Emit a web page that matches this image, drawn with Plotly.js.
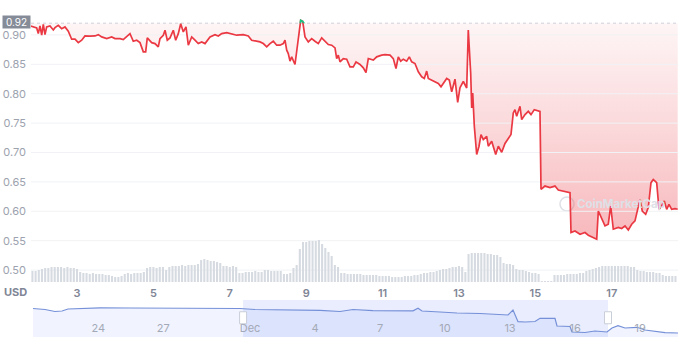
<!DOCTYPE html>
<html><head><meta charset="utf-8">
<script src="https://cdn.plot.ly/plotly-3.0.1.min.js"></script>
<style>html,body{margin:0;padding:0;background:#fff}#chart{width:690px;height:344px}</style>
</head><body><div id="chart"></div>
<script>
// ---- price (December, fractional day of month) ----
const priceDay = [1.770,1.856,1.945,1.987,2.031,2.076,2.118,2.162,2.207,2.293,
2.380,2.424,2.510,2.599,2.686,2.772,2.861,2.948,3.034,3.123,
3.209,3.340,3.471,3.558,3.647,3.777,3.908,3.995,4.126,4.212,
4.301,4.387,4.474,4.563,4.649,4.736,4.798,4.840,4.955,5.042,
5.128,5.173,5.259,5.304,5.364,5.435,5.521,5.584,5.652,5.715,
5.783,5.853,5.914,6.003,6.089,6.175,6.264,6.351,6.482,6.613,
6.699,6.788,6.919,7.050,7.181,7.353,7.484,7.573,7.704,7.791,
7.877,7.966,8.052,8.139,8.228,8.314,8.401,8.445,8.490,8.531,
8.576,8.620,8.707,8.767,8.819,8.856,8.908,8.969,9.055,9.144,
9.230,9.317,9.406,9.492,9.579,9.668,9.754,9.798,9.840,9.885,
9.971,10.060,10.147,10.233,10.304,10.408,10.495,10.565,10.626,10.757,
10.846,10.976,11.063,11.194,11.280,11.351,11.411,11.474,11.542,11.631,
11.699,11.762,11.848,11.935,12.024,12.092,12.154,12.196,12.285,12.372,
12.458,12.529,12.607,12.678,12.746,12.809,12.895,12.966,13.026,13.113,
13.202,13.243,13.306,13.332,13.359,13.401,13.463,13.524,13.576,13.636,
13.725,13.767,13.856,13.961,14.029,14.118,14.204,14.291,14.361,14.421,
14.466,14.510,14.597,14.641,14.728,14.814,14.885,14.971,15.060,15.120,
15.147,15.251,15.382,15.513,15.599,15.730,15.861,15.906,15.932,16.037,
16.168,16.298,16.385,16.516,16.605,16.647,16.736,16.822,16.908,16.971,
17.039,17.170,17.259,17.346,17.432,17.521,17.607,17.678,17.738,17.798,
17.887,17.955,18.026,18.086,18.175,18.236,18.306,18.374,18.437,18.497,
18.568,18.654,18.725];
const priceUsd = [0.9153,0.9136,0.9119,0.9022,0.9153,0.8995,0.9181,0.9005,0.9136,0.9153,
0.9085,0.9124,0.9164,0.9107,0.9136,0.9063,0.8927,0.8927,0.8869,0.8910,
0.8983,0.8978,0.8983,0.9005,0.8966,0.8937,0.8966,0.8937,0.8937,0.8920,
0.8966,0.9022,0.8893,0.8910,0.8869,0.8712,0.8712,0.8949,0.8869,0.8853,
0.8797,0.8937,0.8995,0.9080,0.8910,0.8949,0.9080,0.8910,0.9022,0.9190,
0.9051,0.9136,0.8825,0.8966,0.8910,0.8853,0.8881,0.8853,0.8966,0.9005,
0.8983,0.9022,0.9039,0.9022,0.8995,0.9005,0.8983,0.8910,0.8893,0.8881,
0.8853,0.8797,0.8853,0.8893,0.8825,0.8825,0.8853,0.8910,0.8741,0.8683,
0.8554,0.8627,0.8497,0.8825,0.9107,0.9249,0.9232,0.8966,0.8881,0.8937,
0.8893,0.8853,0.8949,0.8893,0.8836,0.8825,0.8780,0.8598,0.8656,0.8542,
0.8598,0.8588,0.8458,0.8458,0.8542,0.8497,0.8441,0.8361,0.8598,0.8571,
0.8627,0.8656,0.8666,0.8656,0.8598,0.8429,0.8627,0.8554,0.8588,0.8554,
0.8627,0.8542,0.8514,0.8373,0.8288,0.8259,0.8385,0.8259,0.8232,0.8203,
0.8175,0.8119,0.8203,0.8259,0.8232,0.8034,0.8247,0.7853,0.8102,0.8208,
0.8097,0.9085,0.8351,0.7758,0.8012,0.7446,0.6966,0.7107,0.7305,0.7220,
0.7276,0.7107,0.7192,0.6966,0.7107,0.7005,0.7153,0.7249,0.7305,0.7673,
0.7729,0.7615,0.7785,0.7559,0.7644,0.7700,0.7644,0.7729,0.7717,0.7700,
0.6373,0.6429,0.6402,0.6429,0.6361,0.6344,0.6317,0.6317,0.5639,0.5666,
0.5610,0.5639,0.5593,0.5554,0.5525,0.6005,0.5864,0.5751,0.5780,0.6090,
0.5695,0.5724,0.5707,0.5751,0.5683,0.5780,0.5836,0.6063,0.6203,0.6005,
0.5949,0.6063,0.6487,0.6542,0.6487,0.6034,0.6090,0.6175,0.6034,0.6119,
0.6034,0.6046,0.6034];
const baselinePrice = 0.92;

// ---- volume (2-hour bars) ----
const volumeStartDay = 1.8333;
const volumeStepHours = 2;
const volumeM = [11,11,12,
13,14,14,15,15,15,15,14,15,14,14,13,
10,
9,9,8,9,8,8,8,7,7,
6,5,5,6,
8,9,8,9,9,9,10,
14,15,15,14,15,15,
12,
15,16,16,16,17,16,17,17,17,18,
22,23,22,21,21,20,19,
16,16,15,16,15,
9,9,10,
10,10,11,10,10,
12,12,11,11,11,11,
8,8,9,
14,17,
33,
40,40,41,41,41,42,
38,34,30,26,
17,15,
9,9,8,8,8,8,8,7,7,7,7,7,6,
6,6,6,5,5,5,5,6,6,6,7,7,
8,9,9,10,10,11,12,
13,13,14,15,15,16,15,
10,
28,29,29,29,29,29,28,28,27,27,25,
19,18,18,17,
13,12,12,11,10,9,9,8,
1,1,1,1,
7,7,7,7,8,8,8,8,9,9,
11,12,13,14,15,
16,16,16,16,16,16,16,16,16,15,15,
12,11,11,10,10,10,9,9,
7,6,6,6,6];

// ---- axes ----
const yTickVals = [0.50,0.55,0.60,0.65,0.70,0.75,0.80,0.85,0.90];
const yTickText = ['0.50','0.55','0.60','0.65','0.70','0.75','0.80','0.85','0.90'];
const xTickDays = [3,5,7,9,11,13,15,17];
const xTickText = ['3','5','7','9','11','13','15','17'];
const viewDays = [1.796, 18.733];

// ---- navigator ----
const navDay = [-8.645,-8.091,-7.630,-7.306,-7.030,-6.476,-5.553,-4.168,-2.784,-1.400,
-0.015,0.908,1.600,2.523,3.677,4.600,5.522,6.122,7.045,8.060,
8.891,9.122,9.306,10.137,10.922,11.983,12.906,13.275,13.506,13.737,
14.060,14.521,14.752,15.444,15.536,16.136,16.228,16.828,17.290,17.844,
18.074,18.351,18.674,19.043,19.228,19.597,20.059,20.521,21.121];
const navPrice = [0.9274,0.9137,0.8863,0.8932,0.9205,0.9274,0.9370,0.9342,0.9301,0.9274,
0.9301,0.9274,0.9137,0.9096,0.9000,0.9027,0.8863,0.9137,0.8973,0.9000,
0.8959,0.9301,0.8932,0.8795,0.8658,0.8589,0.8452,0.8384,0.9068,0.7466,
0.7425,0.7493,0.7932,0.7932,0.6877,0.6808,0.6055,0.5986,0.6192,0.6055,
0.6603,0.6918,0.6603,0.6603,0.6699,0.6329,0.6123,0.5959,0.5918];
const navTickDays = [-6,-3,1,4,7,10,13,16,19];
const navTickText = ['24','27','Dec','4','7','10','13','16','19'];
const navViewDays = [-8.737, 21.12];
const navWindow = [1.05, 17.89];

function dec(d){
  const t = new Date(Date.UTC(2022,11,1) + (d-1)*86400000);
  return t.toISOString().slice(0,19).replace('T',' ');
}

const FONT = 'Inter, "Noto Sans", "DejaVu Sans", sans-serif';
const RED = '#ea3943';
const px = priceDay.map(dec);

const gx = [], gy = [];
yTickVals.forEach(v => { gx.push(dec(viewDays[0]), dec(viewDays[1]), null); gy.push(v, v, null); });

const traces = [
  {type:'scatter', mode:'lines', x:px, y:priceDay.map(()=>baselinePrice), xaxis:'x', yaxis:'y',
   line:{width:0, color:'rgba(0,0,0,0)'}, hoverinfo:'skip'},
  {type:'scatter', mode:'lines', x:px, y:priceUsd.map(p=>Math.min(p, baselinePrice)), xaxis:'x', yaxis:'y',
   fill:'tonexty', line:{width:0, color:'rgba(0,0,0,0)'},
   fillgradient:{type:'vertical', start:0.55, stop:0.92,
     colorscale:[[0,'rgba(234,57,67,0.36)'],[0.5,'rgba(234,57,67,0.2)'],[1,'rgba(234,57,67,0.05)']]},
   hoverinfo:'skip'},
  {type:'scatter', mode:'lines', x:gx, y:gy, xaxis:'x', yaxis:'y', line:{width:1, color:'#f0f2f5'}, hoverinfo:'skip'},
  {type:'scatter', mode:'lines', x:px, y:priceUsd, xaxis:'x', yaxis:'y', line:{width:1.7, color:RED}, hoverinfo:'skip'},
  {type:'bar', x0:dec(volumeStartDay), dx:volumeStepHours*3600000, y:volumeM, xaxis:'x', yaxis:'y2',
   marker:{color:'#d6dae1', line:{width:0}}, hoverinfo:'skip'},
  {type:'scatter', mode:'lines', x:px, y:priceUsd, xaxis:'x', yaxis:'y3', line:{width:1.7, color:'#16c784'}, hoverinfo:'skip'},
  {type:'scatter', mode:'lines', x:navDay.map(dec), y:navPrice, xaxis:'x2', yaxis:'y4',
   fill:'tozeroy', fillcolor:'rgba(56,97,251,0.07)', line:{width:1.2, color:'#7590d8'}, hoverinfo:'skip'}
];

const layout = {
  width:690, height:344,
  margin:{l:31, r:12, t:10, b:6},
  paper_bgcolor:'#ffffff', plot_bgcolor:'rgba(0,0,0,0)',
  showlegend:false, hovermode:false, bargap:0.35,
  font:{family:FONT},
  xaxis:{domain:[0,1], anchor:'y', type:'date', range:[dec(viewDays[0]), dec(viewDays[1])],
    tickmode:'array', tickvals:xTickDays.map(dec), ticktext:xTickText,
    showgrid:false, zeroline:false, showline:false, ticks:'', ticklabelstandoff:3,
    tickfont:{family:FONT, size:11, color:'#7f8696', weight:600}},
  yaxis:{domain:[0.1707,1], anchor:'x', range:[0.4797,0.9424],
    tickmode:'array', tickvals:yTickVals, ticktext:yTickText,
    showgrid:false, zeroline:false, showline:false, ticks:'', ticklabelstandoff:4,
    tickfont:{family:FONT, size:11, color:'#9ca2ae'}},
  yaxis2:{overlaying:'y', range:[0,272], visible:false},
  yaxis3:{domain:[0.9598,1], anchor:'x', range:[0.92,0.9424], visible:false},
  xaxis2:{domain:[0,1], anchor:'y4', type:'date', range:[dec(navViewDays[0]), dec(navViewDays[1])],
    tickmode:'array', tickvals:navTickDays.map(dec), ticktext:navTickText,
    ticklabelposition:'inside', ticklabelshift:8,
    showgrid:false, zeroline:false, showline:false, ticks:'',
    tickfont:{family:FONT, size:11, color:'#a3a9b6'}},
  yaxis4:{domain:[0.00305,0.1159], anchor:'x2', range:[0.537,1.0438], visible:false},
  shapes:[
    {type:'line', xref:'paper', yref:'y', x0:0, x1:1, y0:baselinePrice, y1:baselinePrice,
     line:{color:'#cfd4dc', width:1, dash:'dot'}, layer:'below'},
    {type:'rect', xref:'x2', yref:'y4 domain', x0:dec(navWindow[0]), x1:dec(navWindow[1]), y0:0, y1:1,
     fillcolor:'rgba(70,105,235,0.12)', line:{width:0}, layer:'below'},
    {type:'rect', xref:'x2', yref:'y4 domain', xsizemode:'pixel', ysizemode:'pixel',
     xanchor:dec(navWindow[0]), yanchor:0.52, x0:-3.5, x1:3.5, y0:-6, y1:6,
     fillcolor:'#ffffff', line:{color:'#c9ced8', width:1}},
    {type:'rect', xref:'x2', yref:'y4 domain', xsizemode:'pixel', ysizemode:'pixel',
     xanchor:dec(navWindow[1]), yanchor:0.52, x0:-3.5, x1:3.5, y0:-6, y1:6,
     fillcolor:'#ffffff', line:{color:'#c9ced8', width:1}},
    {type:'circle', xref:'paper', yref:'paper', x0:0.8176, x1:0.8393, y0:0.3872, y1:0.4299,
     line:{color:'#dde0e6', width:1.5}, layer:'below'}
  ],
  annotations:[
    {xref:'paper', yref:'paper', x:-0.0247, y:0.1402, text:'<b>USD</b>', showarrow:false,
     xanchor:'center', yanchor:'middle', font:{family:FONT, size:11, color:'#7f8696'}},
    {xref:'paper', yref:'y', x:-0.0224, y:baselinePrice, yshift:1.5, text:baselinePrice.toFixed(2), showarrow:false,
     xanchor:'center', yanchor:'middle', bgcolor:'#858b97', borderpad:0, width:27, height:12,
     font:{family:FONT, size:10, color:'#ffffff'}},
    {xref:'paper', yref:'paper', x:0.912, y:0.4085, text:'<b>CoinMarketCap</b>', showarrow:false,
     xanchor:'center', yanchor:'middle', font:{family:FONT, size:11.5, color:'#dde0e6'}}
  ]
};

Plotly.newPlot('chart', traces, layout, {displayModeBar:false, staticPlot:true});
</script>
</body></html>
